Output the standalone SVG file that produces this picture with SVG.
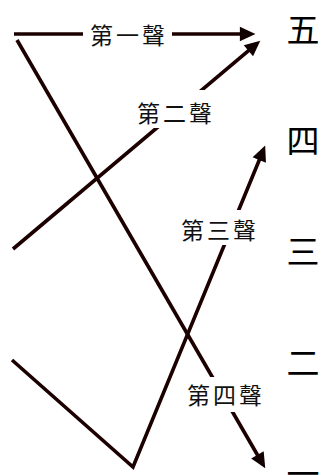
<svg xmlns="http://www.w3.org/2000/svg" width="322" height="475" viewBox="0 0 322 475">
<style>
.ln{fill:none;stroke:#1c0000;stroke-width:3.6;stroke-linejoin:miter}
.lbl{font-family:"Noto Sans CJK TC","Noto Sans CJK SC",sans-serif;font-size:23px;fill:#111;text-anchor:middle;dominant-baseline:central;letter-spacing:3px}
.tone{font-family:"Noto Sans CJK TC","Noto Sans CJK SC",sans-serif;font-size:33px;fill:#000;text-anchor:middle;dominant-baseline:central}
.bg{fill:#fff}
</style>
<defs>
<marker id="ah" markerUnits="userSpaceOnUse" markerWidth="20" markerHeight="20" viewBox="-1 -8 18 16" refX="10" refY="0" orient="auto">
<path d="M0,-6.5 L14,0 L0,6.5 z" fill="#100000"/>
</marker>
</defs>
<g id="connectors">
<path class="ln" d="M14,34 L251,34" marker-end="url(#ah)"/>
<path class="ln" d="M13,249 L256.9,43.6" marker-end="url(#ah)"/>
<path class="ln" d="M12,360 L133,467 L263.5,149.7" marker-end="url(#ah)"/>
<path class="ln" d="M17,40 L263,464.5" marker-end="url(#ah)"/>
</g>
<g id="label1"><rect class="bg" x="83" y="20" width="89" height="28"/><text class="lbl" x="129" y="34">第一聲</text></g>
<g id="label2"><rect class="bg" x="132" y="90" width="86" height="38"/><text class="lbl" x="176" y="112">第二聲</text></g>
<g id="label3"><rect class="bg" x="176" y="210" width="84" height="35"/><text class="lbl" x="220" y="229">第三聲</text></g>
<g id="label4"><rect class="bg" x="182" y="377" width="86" height="35"/><text class="lbl" x="226" y="394">第四聲</text></g>
<g id="tone5"><text class="tone" x="303" y="28">五</text></g>
<g id="tone4"><text class="tone" x="303" y="139">四</text></g>
<g id="tone3"><text class="tone" x="303" y="250">三</text></g>
<g id="tone2"><text class="tone" x="303" y="361">二</text></g>
<g id="tone1"><text class="tone" x="303" y="472">一</text></g>
</svg>
